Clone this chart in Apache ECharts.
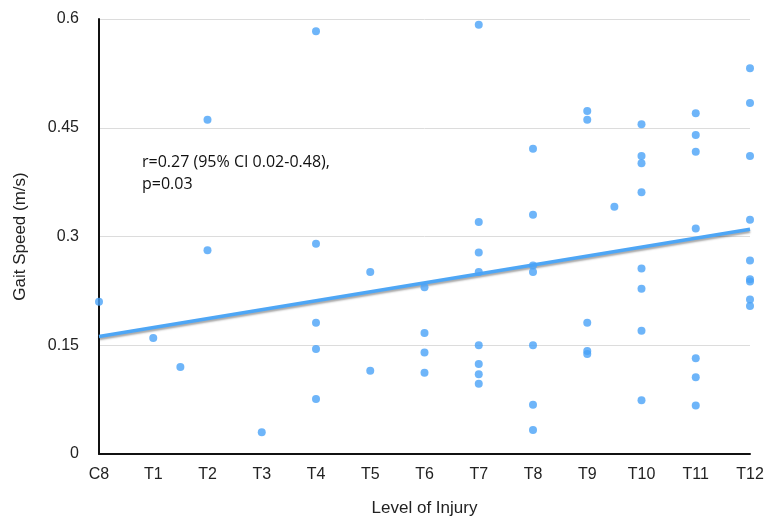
<!DOCTYPE html>
<html>
<head>
<meta charset="utf-8">
<script src="https://cdn.jsdelivr.net/npm/echarts@6/dist/echarts.min.js"></script>
<style>
  html, body { margin: 0; padding: 0; background: #fff; }
  #chart { width: 769px; height: 522px; }
</style>
</head>
<body>
<div id="chart"></div>
<script>
  // level of injury labels, C8 = 0 ... T12 = 12
  var levels = ['C8', 'T1', 'T2', 'T3', 'T4', 'T5', 'T6', 'T7', 'T8', 'T9', 'T10', 'T11', 'T12']
  // position of each patient on the level axis
  var injuryPos = [
    0, 1, 1.5, 2, 2, 3,
    4, 4, 4, 4, 4,
    5, 5,
    6, 6, 6, 6,
    7, 7, 7, 7, 7, 7, 7, 7,
    8, 8, 8, 8, 8, 8, 8,
    9, 9, 9, 9, 9, 9.5,
    10, 10, 10, 10, 10, 10, 10, 10,
    11, 11, 11, 11, 11, 11, 11,
    12, 12, 12, 12, 12, 12, 12, 12, 12
  ]
  // gait speed (m/s)
  var gaitSpeed = [
    0.21, 0.16, 0.12, 0.461, 0.281, 0.03,
    0.583, 0.29, 0.181, 0.145, 0.076,
    0.251, 0.115,
    0.23, 0.167, 0.14, 0.112,
    0.592, 0.32, 0.278, 0.251, 0.15, 0.124, 0.11, 0.097,
    0.421, 0.33, 0.26, 0.251, 0.15, 0.068, 0.033,
    0.473, 0.461, 0.181, 0.142, 0.138, 0.341,
    0.455, 0.411, 0.401, 0.361, 0.256, 0.228, 0.17, 0.074,
    0.47, 0.44, 0.417, 0.311, 0.132, 0.106, 0.067,
    0.532, 0.484, 0.411, 0.323, 0.267, 0.241, 0.238, 0.213, 0.204
  ]
  // linear fit, value at C8 and at T12
  var trendX = [0, 12]
  var trendY = [0.162, 0.31]

  var chart = echarts.init(document.getElementById('chart'))
  var points = injuryPos.map(function (x, i) { return [x, gaitSpeed[i]] })
  var trend = trendX.map(function (x, i) { return [x, trendY[i]] })
  var axisFont = 'Liberation Sans'

  chart.setOption({
    animation: false,
    grid: { left: 99, right: 19, top: 19, bottom: 63 },
    xAxis: {
      type: 'value',
      min: 0,
      max: 12,
      interval: 1,
      name: 'Level of Injury',
      nameLocation: 'middle',
      nameGap: 46,
      nameTextStyle: { color: '#222', fontSize: 17, fontFamily: axisFont },
      axisLine: { show: true, lineStyle: { color: '#111', width: 2 } },
      axisTick: { show: false },
      splitLine: { show: false },
      axisLabel: {
        color: '#222',
        fontSize: 16,
        fontFamily: axisFont,
        margin: 13,
        formatter: function (v) { return levels[v] }
      }
    },
    yAxis: {
      type: 'value',
      min: 0,
      max: 0.6,
      interval: 0.15,
      name: 'Gait Speed (m/s)',
      nameLocation: 'middle',
      nameGap: 70,
      nameRotate: 90,
      nameTextStyle: { color: '#222', fontSize: 17, fontFamily: axisFont },
      axisLine: { show: true, lineStyle: { color: '#111', width: 2 } },
      axisTick: { show: false },
      splitLine: { lineStyle: { color: '#dcdcdc', width: 1 } },
      axisLabel: {
        color: '#222',
        fontSize: 16,
        fontFamily: axisFont,
        margin: 20,
        formatter: function (v) { return v === 0 ? '0' : String(+v.toFixed(2)) }
      }
    },
    graphic: [{
      type: 'text',
      left: 142,
      top: 151,
      style: {
        text: 'r=0.27 (95% CI 0.02-0.48),\np=0.03',
        fill: '#111',
        font: '16px "Open Sans"',
        lineHeight: 22
      }
    }],
    series: [
      {
        type: 'line',
        data: trend,
        symbol: 'none',
        z: 3,
        lineStyle: {
          color: '#4ea6f5',
          width: 3.5,
          shadowColor: 'rgba(0,0,0,0.35)',
          shadowBlur: 2,
          shadowOffsetY: 2
        }
      },
      {
        type: 'scatter',
        data: points,
        symbolSize: 8,
        z: 4,
        itemStyle: { color: '#4aa3f7' }
      }
    ]
  })
</script>
</body>
</html>
